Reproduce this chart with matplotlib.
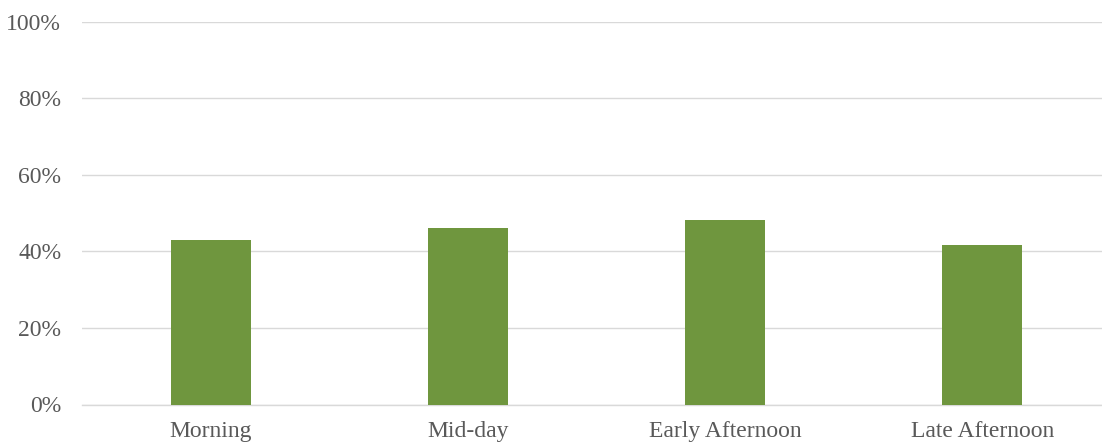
import matplotlib
matplotlib.use("Agg")
import matplotlib.pyplot as plt
from matplotlib.ticker import FuncFormatter

categories = ["Morning", "Mid-day", "Early Afternoon", "Late Afternoon"]
values = [42.9, 46.1, 48.3, 41.7]
y_ticks = [0, 20, 40, 60, 80, 100]

plt.rcParams['font.family'] = ['Liberation Serif', 'DejaVu Serif']

fig = plt.figure(figsize=(11.02, 4.46), dpi=100)
ax = fig.add_axes([82 / 1102, 41.5 / 446, 1029 / 1102, 383 / 446])

x = range(len(categories))
ax.bar(x, values, width=0.311, color="#6F963E", zorder=3)

ax.set_ylim(0, 100)
ax.set_xlim(-0.5, len(categories) - 0.5)
ax.set_yticks(y_ticks)
ax.yaxis.set_major_formatter(FuncFormatter(lambda v, p: f"{v:.0f}%"))
ax.set_xticks(list(x))
ax.set_xticklabels(categories)

ax.grid(axis="y", color="#D9D9D9", linewidth=1.0, zorder=0)
for s in ["top", "right", "left"]:
    ax.spines[s].set_visible(False)
ax.spines["bottom"].set_color("#D9D9D9")
ax.spines["bottom"].set_linewidth(1.0)

ax.tick_params(axis="both", length=0, labelsize=17, labelcolor="#595959")
ax.tick_params(axis="y", pad=15)
ax.tick_params(axis="x", pad=12)

fig.savefig("out.png", dpi=100)
